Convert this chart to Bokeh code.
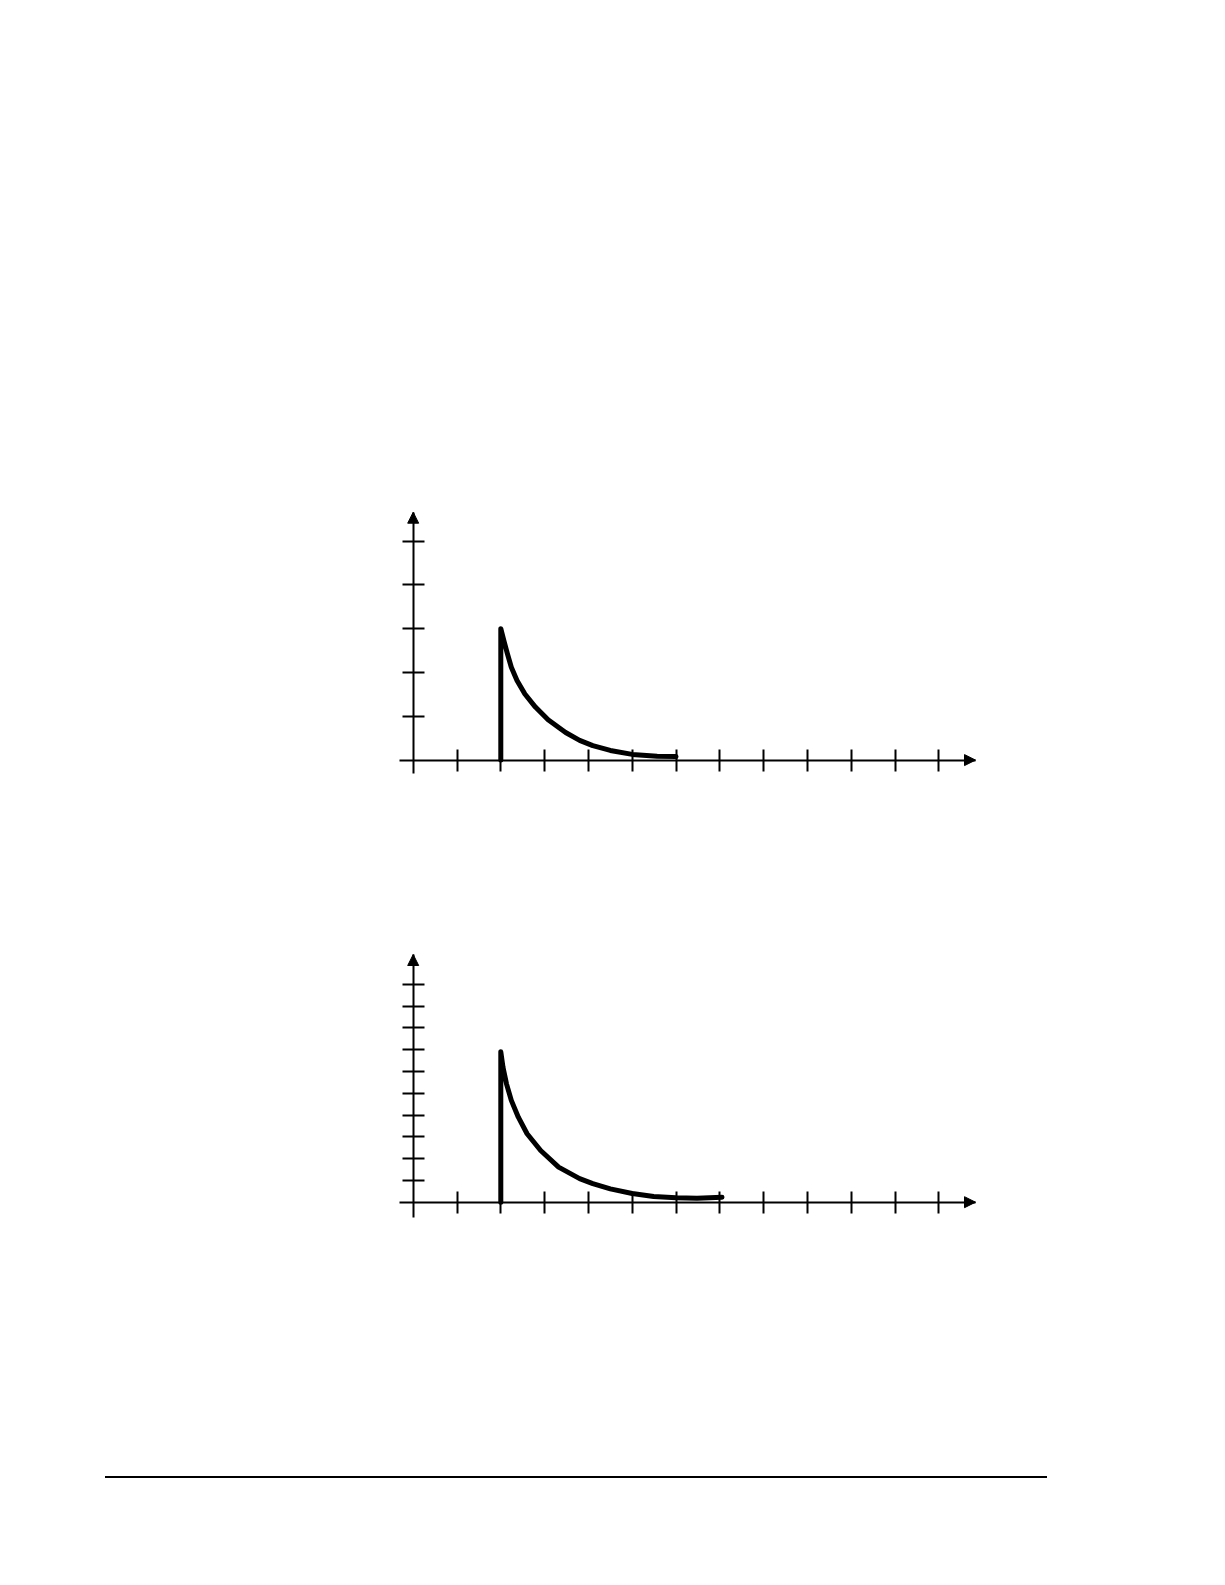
from bokeh.plotting import figure
from bokeh.models import FixedTicker, Arrow, NormalHead, Range1d, Spacer, Div, LinearAxis
from bokeh.layouts import column, row
from bokeh.embed import file_html
from bokeh.resources import INLINE

# ---------------- data ----------------
top_x = [2.0, 2.0, 2.07, 2.15, 2.24, 2.37, 2.55, 2.79, 3.08, 3.48, 3.8, 4.1, 4.5, 5.0, 5.57, 6.0]
top_y = [0.0, 3.0, 2.73, 2.43, 2.12, 1.82, 1.51, 1.21, 0.92, 0.63, 0.45, 0.33, 0.22, 0.13, 0.09, 0.08]
top_xticks = [1, 2, 3, 4, 5, 6, 7, 8, 9, 10, 11, 12]
top_yticks = [1, 2, 3, 4, 5]

bot_x = [2.0, 2.0, 2.05, 2.13, 2.24, 2.40, 2.60, 2.91, 3.32, 3.8, 4.1, 4.5, 5.0, 5.49, 6.0, 6.48, 7.05]
bot_y = [0.0, 6.9, 6.19, 5.43, 4.67, 3.90, 3.14, 2.37, 1.61, 1.08, 0.85, 0.61, 0.40, 0.26, 0.20, 0.18, 0.23]
bot_xticks = [1, 2, 3, 4, 5, 6, 7, 8, 9, 10, 11, 12]
bot_yticks = [1, 2, 3, 4, 5, 6, 7, 8, 9, 10]

# ---------------- layout geometry (page pixels) ----------------
FIG_LEFT = 386
FIG_W = 600
ORIGIN_X = 412.7
UNIT_X = 43.8
AXIS_LEFT_PX = 399.3
AXIS_RIGHT_PX = 975.0


def make_chart(xs, ys, xticks, yticks, fig_top, fig_h, origin_y, unit_y, axis_top_px, axis_bottom_px):
    x0 = (FIG_LEFT - ORIGIN_X) / UNIT_X
    x1 = (FIG_LEFT + FIG_W - ORIGIN_X) / UNIT_X
    y1 = (origin_y - fig_top) / unit_y
    y0 = (origin_y - (fig_top + fig_h)) / unit_y
    xb = ((AXIS_LEFT_PX - ORIGIN_X) / UNIT_X, (AXIS_RIGHT_PX - ORIGIN_X) / UNIT_X)
    yb = ((origin_y - axis_bottom_px) / unit_y, (origin_y - axis_top_px) / unit_y)

    p = figure(width=FIG_W, height=fig_h, x_range=Range1d(x0, x1), y_range=Range1d(y0, y1),
               output_backend="svg", toolbar_location=None,
               x_axis_location=None, y_axis_location=None, min_border=0)
    p.outline_line_color = None
    p.grid.visible = False
    p.background_fill_color = "white"
    p.border_fill_color = "white"

    xa = LinearAxis(fixed_location=0, bounds=xb, ticker=FixedTicker(ticks=xticks),
                    major_tick_in=11, major_tick_out=11,
                    major_label_overrides={t: "" for t in xticks})
    ya = LinearAxis(fixed_location=0, bounds=yb, ticker=FixedTicker(ticks=yticks),
                    major_tick_in=11, major_tick_out=11,
                    major_label_overrides={t: "" for t in yticks})
    for a in (xa, ya):
        a.axis_line_width = 2
        a.axis_line_color = "black"
        a.major_tick_line_width = 2
        a.major_tick_line_color = "black"
        a.minor_tick_line_color = None
        a.major_label_text_font_size = "0px"
    p.add_layout(xa, "below")
    p.add_layout(ya, "left")

    # arrow heads at the ends of the axes
    p.add_layout(Arrow(end=NormalHead(size=11, fill_color="black", line_color="black", line_width=1),
                       x_start=xb[1] - 0.3, y_start=0, x_end=xb[1], y_end=0, line_alpha=0))
    p.add_layout(Arrow(end=NormalHead(size=11, fill_color="black", line_color="black", line_width=1),
                       x_start=0, y_start=yb[1] - 0.3 * UNIT_X / unit_y, x_end=0, y_end=yb[1], line_alpha=0))

    p.line(xs, ys, line_width=5, line_color="black", line_join="round", line_cap="round")
    return p


TOP_FIG_TOP = 500
TOP_FIG_H = 280
p1 = make_chart(top_x, top_y, top_xticks, top_yticks, TOP_FIG_TOP, TOP_FIG_H,
                origin_y=759.6, unit_y=43.8, axis_top_px=511.7, axis_bottom_px=773.3)

BOT_FIG_TOP = 940
BOT_FIG_H = 285
p2 = make_chart(bot_x, bot_y, bot_xticks, bot_yticks, BOT_FIG_TOP, BOT_FIG_H,
                origin_y=1201.7, unit_y=21.8, axis_top_px=954.0, axis_bottom_px=1216.7)

RULE_TOP = 1471
RULE_LEFT = 100
RULE_W = 942
rule = Div(text="", width=RULE_W, height=2,
           styles={"background-color": "black", "width": f"{RULE_W}px", "height": "2px"})

layout = column(
    Spacer(height=TOP_FIG_TOP),
    row(Spacer(width=FIG_LEFT), p1),
    Spacer(height=BOT_FIG_TOP - TOP_FIG_TOP - TOP_FIG_H),
    row(Spacer(width=FIG_LEFT), p2),
    Spacer(height=RULE_TOP - BOT_FIG_TOP - BOT_FIG_H),
    row(Spacer(width=RULE_LEFT), rule),
    spacing=0,
)

open("out.html", "w").write(file_html(layout, INLINE))
